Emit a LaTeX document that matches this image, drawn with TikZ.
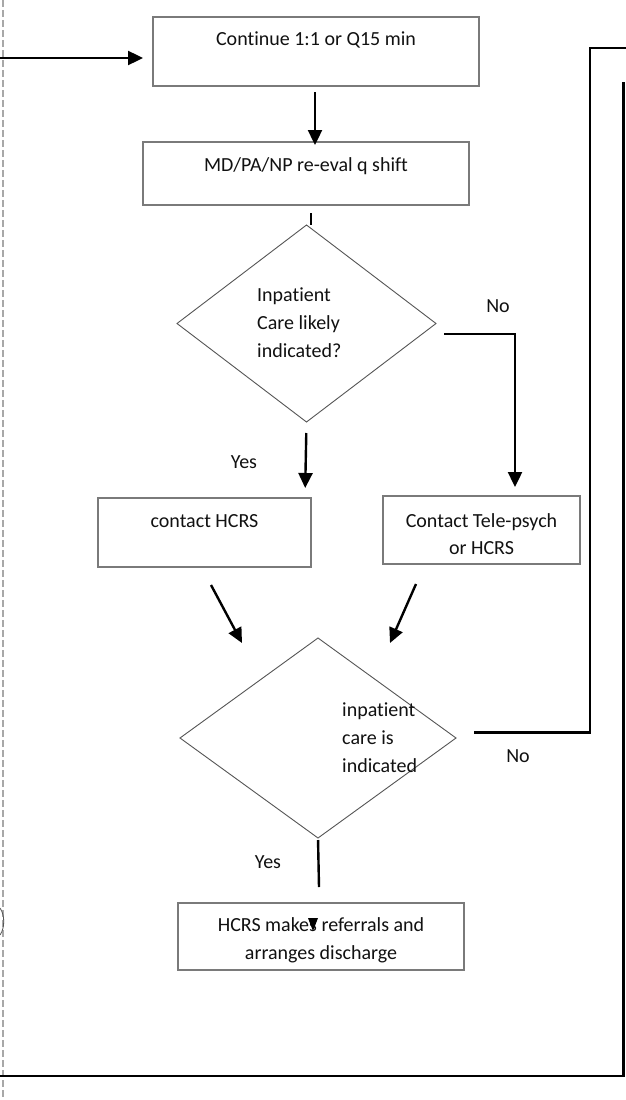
\documentclass[tikz,border=0pt]{standalone}
\usepackage{fontspec}
\setmainfont{Carlito}[RawFeature=-liga]
\usetikzlibrary{arrows.meta,shapes.geometric,calc}

\definecolor{boxgray}{HTML}{7A7A7A}
\definecolor{diagray}{HTML}{555555}
\definecolor{dashgray}{HTML}{A8A8A8}
\definecolor{inkc}{HTML}{111111}

% box body: width, height, baseline offset of first line, text
\newcommand\boxbody[4]{\begin{minipage}[c][#2][t]{#1}\centering\rule{0pt}{#3}#4\end{minipage}}
% left aligned text block, baseline of its first line is the node's base
\newcommand\leftblock[2]{\begin{minipage}[t]{#1}\raggedright #2\end{minipage}}

\begin{document}
\begin{tikzpicture}[x=1pt,y=-1pt,
  every node/.style={font=\fontsize{20}{28}\selectfont, text=inkc},
  flowbox/.style={draw=boxgray, line width=1.2pt, inner sep=0pt, outer sep=0pt},
  decision/.style={diamond, draw=diagray, line width=0.9pt, inner sep=0pt, outer sep=0pt},
  conn/.style={draw=black, line width=2.4pt},
  arr/.style={conn, -{Triangle[length=15pt,width=14pt]}},
  tag/.style={anchor=base, inner sep=0pt},
  blurb/.style={anchor=base west, inner sep=0pt}]

\useasboundingbox (0,0) rectangle (626,1100);
\fill[white] (0,0) rectangle (626,1100);

% dashed margin line on the left
\draw[dashgray, line width=2.2pt, dash pattern=on 7pt off 3pt] (2.8,0) -- (2.8,1100);
% fragment of a shape cut off at the left edge
\draw[diagray, line width=0.8pt] (0,908) .. controls (5,915) and (5,928) .. (0,935);

% boxes
\node[flowbox] (b1) at (316,51.5) {\boxbody{326pt}{69pt}{28pt}{Continue 1:1 or Q15 min}};
\node[flowbox] (b2) at (306,173.5) {\boxbody{326pt}{63pt}{29pt}{MD/PA/NP re-eval q shift}};
\node[flowbox] (b3) at (204.5,532.5) {\boxbody{213pt}{69pt}{29pt}{contact HCRS}};
\node[flowbox] (b4) at (481.5,530) {\boxbody{197pt}{68pt}{31pt}{\fontsize{20}{27}\selectfont Contact Tele-psych\\or HCRS}};
\node[flowbox] (b5) at (321,936.5) {\boxbody{286pt}{67pt}{28pt}{HCRS makes referrals and\\arranges discharge}};

% decisions
\node[decision, minimum width=259pt, minimum height=197pt] (d1) at (306.5,323.5) {};
\node[blurb] (d1t) at (257,301) {\leftblock{110pt}{Inpatient\\Care likely\\indicated?}};
\node[decision, minimum width=276pt, minimum height=200pt] (d2) at (318,738) {};
\node[blurb] (d2t) at (342,716) {\leftblock{100pt}{inpatient\\care is\\indicated}};

% branch labels
\node[tag] (no1) at (498,312) {No};
\node[tag] (yes1) at (244,468) {Yes};
\node[tag] (no2) at (518,762) {No};
\node[tag] (yes2) at (268,868) {Yes};

% free ends of the outer lines
\coordinate (inL) at (0,58);
\coordinate (outR) at (626,48);
\coordinate (retTop) at (623.5,82);
\coordinate (retCorner) at (623.5,1076);
\coordinate (retL) at (0,1076);

% connectors
\draw[arr, shorten >=10pt] (inL) -- (inL -| b1.west);
\draw[arr, shorten <=6pt, shorten >=-3pt] (b1.south -| 315,0) -- (b2.north -| 315,0);
\draw[conn, shorten <=8pt] (b2.south -| 311,0) -- (d1.north -| 311,0);
\draw[arr] ($(d1.east)+(8,10.5)$) -| ($(b4.north west)+(132,-9)$);
\draw[arr, shorten <=11pt, shorten >=10pt] (d1.south) -- (b3.north -| 305,0);
\draw[arr] ($(b3.south west)+(113,18)$) -- ($(d2.north)+(-76,5)$);
\draw[arr] ($(b4.south west)+(33,20)$) -- ($(d2.north)+(72,5)$);
\draw[conn, line cap=butt] ($(d2.east)+(18,-5.5)$) -| (590,48) -- (outR);
\draw[conn] (retTop) -- (retCorner) -- (retL);
\draw[conn, shorten <=2pt] (d2.south) -- ($(d2.south)+(1,49)$) coordinate (yesEnd);
\fill[black] ($(b5.north)+(-13,15)$) -- ($(b5.north)+(-3,15)$) -- ($(b5.north)+(-8,28)$) -- cycle;
\end{tikzpicture}
\end{document}
